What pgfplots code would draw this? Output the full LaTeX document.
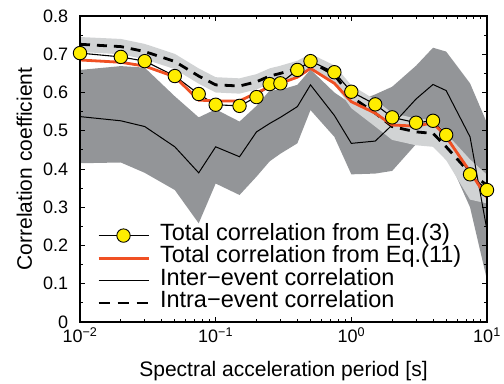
\documentclass[border=0pt]{standalone}
\usepackage{pgfplots}
\pgfplotsset{compat=1.18}
\usepackage{pgfplotstable}
\usepackage{fontspec}
\setmainfont{Liberation Sans}
\definecolor{myyellow}{RGB}{255,237,0}
\definecolor{myred}{RGB}{240,80,35}
\definecolor{darkband}{RGB}{147,149,152}
\definecolor{lightband}{RGB}{209,211,212}
\newcommand{\lf}{\fontsize{23.5bp}{26bp}\selectfont}

\pgfplotstableread{
T     eqthree eqeleven intra  inter
0.01  0.703   0.685    0.726  0.537
0.02  0.693   0.679    0.720  0.526
0.03  0.682   0.669    0.707  0.511
0.05  0.643   0.641    0.681  0.458
0.075 0.596   0.580    0.643  0.390
0.1   0.568   0.578    0.620  0.458
0.15  0.565   0.578    0.617  0.432
0.2   0.588   0.599    0.628  0.497
0.25  0.622   0.615    0.643  0.519
0.3   0.624   0.624    0.650  0.535
0.4   0.659   0.640    0.663  0.563
0.5   0.682   0.663    0.681  0.620
0.75  0.653   0.624    0.646  0.540
1     0.602   0.576    0.589  0.467
1.5   0.569   0.546    0.546  0.473
2     0.535   0.515    0.511  0.515
3     0.521   0.512    0.497  0.583
4     0.526   0.521    0.493  0.621
5     0.489   0.484    0.458  0.605
7.5   0.386   0.393    0.389  0.484
10    0.345   0.325    0.358  0.240
}\datatable

% inter-event band: upper edge left to right, then lower edge right to left
\pgfplotstableread{
T     y
0.01  0.659
0.02  0.669
0.03  0.665
0.05  0.590
0.075 0.535
0.1   0.556
0.15  0.524
0.2   0.565
0.25  0.605
0.3   0.607
0.4   0.620
0.5   0.660
0.75  0.600
1     0.570
1.5   0.595
2     0.615
3     0.670
4     0.717
5     0.707
7.5   0.624
10    0.520
10    0.110
7.5   0.300
5     0.440
4     0.470
3     0.465
2     0.395
1.5   0.388
1     0.386
0.75  0.484
0.5   0.554
0.4   0.467
0.3   0.440
0.25  0.420
0.2   0.380
0.15  0.332
0.1   0.362
0.075 0.258
0.05  0.345
0.03  0.390
0.02  0.417
0.01  0.415
}\interband

% intra-event band
\pgfplotstableread{
T     y
0.01  0.745
0.02  0.740
0.03  0.727
0.05  0.701
0.075 0.663
0.1   0.640
0.15  0.637
0.2   0.648
0.25  0.663
0.3   0.670
0.4   0.683
0.5   0.701
0.75  0.671
1     0.619
1.5   0.581
2     0.546
3     0.532
4     0.528
5     0.493
7.5   0.425
10    0.385
10    0.310
7.5   0.320
5     0.423
4     0.458
3     0.462
2     0.476
1.5   0.511
1     0.559
0.75  0.621
0.5   0.661
0.4   0.643
0.3   0.630
0.25  0.623
0.2   0.608
0.15  0.597
0.1   0.600
0.075 0.623
0.05  0.661
0.03  0.687
0.02  0.700
0.01  0.706
}\intraband

\begin{document}
\begin{tikzpicture}
\begin{axis}[
  at={(0,0)}, anchor=south west,
  scale only axis, width=407bp, height=306bp,
  xmode=log, xmin=0.01, xmax=10, ymin=0, ymax=0.8,
  xtick={0.01,0.1,1,10},
  xticklabels={10\textsuperscript{−2},10\textsuperscript{−1},10\textsuperscript{0},10\textsuperscript{1}},
  ytick={0,0.1,0.2,0.3,0.4,0.5,0.6,0.7,0.8},
  yticklabels={0,0.1,0.2,0.3,0.4,0.5,0.6,0.7,0.8},
  minor y tick num=1,
  tick label style={font=\fontsize{18bp}{20bp}\selectfont, inner sep=0pt},
  yticklabel style={anchor=east, xshift=-11.7bp},
  xticklabel style={anchor=base, yshift=-21bp},
  xlabel={Spectral acceleration period [s]},
  ylabel={Correlation coefficient},
  every axis x label/.style={at={(axis description cs:0.5,0)}, anchor=base, yshift=-54.7bp,
    font=\fontsize{21bp}{24bp}\selectfont, inner sep=0pt},
  every axis y label/.style={at={(axis description cs:0,0.5)}, xshift=-48bp, rotate=90, anchor=base,
    font=\fontsize{21bp}{24bp}\selectfont, inner sep=0pt},
  axis line style={line width=1.3bp},
  major tick length=5bp, minor tick length=3bp,
  tick style={black, line width=0.8bp},
  axis on top,
  legend cell align=left,
  legend style={at={(0.0418,0.311)}, anchor=north west, draw=none, fill=none,
    inner sep=0pt, outer sep=0pt, row sep=5bp,
    nodes={inner sep=0pt, text height=13.5bp, text depth=4bp}},
  legend image code/.code={
    \draw[mark repeat=2, mark phase=2, #1] plot coordinates {(0bp,0bp) (25bp,0bp) (50bp,0bp)};
    \path (60bp,0bp);
  },
]
\addplot[fill=darkband, draw=none, forget plot] table[x=T,y=y]{\interband} \closedcycle;
\addplot[fill=lightband, draw=none, forget plot] table[x=T,y=y]{\intraband} \closedcycle;
\addplot[black, line width=1bp, forget plot] table[x=T,y=inter]{\datatable};
\addplot[black, line width=2.8bp, dash pattern=on 10bp off 7bp, forget plot] table[x=T,y=intra]{\datatable};
\addplot[black, line width=1.1bp, mark=*, mark size=6.7bp,
  mark options={fill=myyellow, draw=black, line width=0.9bp}, forget plot] table[x=T,y=eqthree]{\datatable};
\addplot[myred, line width=2.8bp, forget plot] table[x=T,y=eqeleven]{\datatable};

\addlegendimage{black, line width=1.1bp, mark=*, mark size=6.7bp, mark options={fill=myyellow, draw=black, line width=0.9bp}}
\addlegendentry{\lf Total correlation from Eq.(3)}
\addlegendimage{myred, line width=3bp}
\addlegendentry{\lf Total correlation from Eq.(11)}
\addlegendimage{black, line width=1bp}
\addlegendentry{\lf Inter−event correlation}
\addlegendimage{black, line width=2.8bp, dash pattern=on 11bp off 8bp}
\addlegendentry{\lf Intra−event correlation}
\end{axis}
\pgfresetboundingbox
\path[use as bounding box] ([shift={(-80bp,-62bp)}]current axis.south west) rectangle ([shift={(17bp,16bp)}]current axis.north east);
\end{tikzpicture}
\end{document}
